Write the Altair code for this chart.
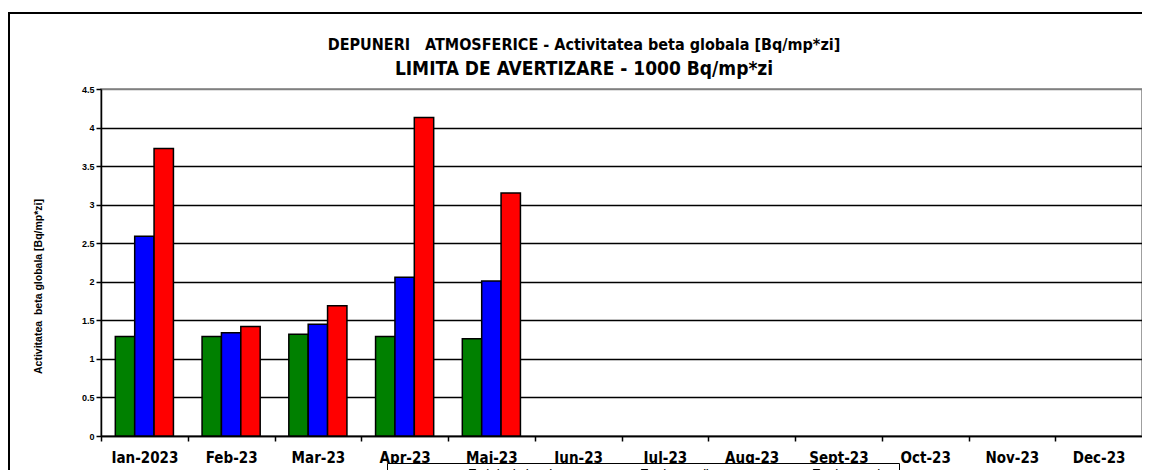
import altair as alt
import pandas as pd

months = ["Ian-2023", "Feb-23", "Mar-23", "Apr-23", "Mai-23", "Iun-23",
          "Iul-23", "Aug-23", "Sept-23", "Oct-23", "Nov-23", "Dec-23"]
series_names = ["Limita de detectie", "Valoare medie", "Valoare maxima"]
green_vals = [1.29, 1.29, 1.32, 1.29, 1.26]
blue_vals = [2.59, 1.34, 1.45, 2.06, 2.01]
red_vals = [3.73, 1.42, 1.69, 4.13, 3.15]
series_colors = ["#008000", "#0000FF", "#FF0000"]
y_ticks = [0, 0.5, 1, 1.5, 2, 2.5, 3, 3.5, 4, 4.5]

title_lines = ["DEPUNERI\u00a0\u00a0 ATMOSFERICE - Activitatea beta globala [Bq/mp*zi]",
               "LIMITA DE AVERTIZARE - 1000 Bq/mp*zi"]
y_title = "Activitatea\u00a0 beta globala [Bq/mp*zi]"
x_title = "Luna"

rows = []
for name, vals in zip(series_names, [green_vals, blue_vals, red_vals]):
    for m, v in zip(months, vals):
        rows.append({"luna": m, "serie": name, "valoare": v})
df = pd.DataFrame(rows)
titles_df = pd.DataFrame({"t": title_lines, "line": [0, 1]})

W, H = 1041, 347
step = W / len(months)
COND = "DejaVu Sans Condensed"
SANS = "Liberation Sans"

frame = alt.Chart(pd.DataFrame({"k": [0]})).mark_rect(
    filled=False, stroke="black", strokeWidth=2, clip=False
).encode(
    x=alt.value(-92), x2=alt.value(1120), y=alt.value(-76), y2=alt.value(460)
)

title1 = alt.Chart(titles_df).transform_filter("datum.line == 0").mark_text(
    font=COND, fontSize=16, fontWeight="bold", color="black", align="center", baseline="alphabetic"
).encode(text="t:N", x=alt.value(483), y=alt.value(-39))

title2 = alt.Chart(titles_df).transform_filter("datum.line == 1").mark_text(
    font=COND, fontSize=19, fontWeight="bold", color="black", align="center", baseline="alphabetic"
).encode(text="t:N", x=alt.value(483), y=alt.value(-14))

bars = alt.Chart(df).mark_bar(stroke="black", strokeWidth=1.5).encode(
    x=alt.X("luna:N", sort=months,
            scale=alt.Scale(domain=months, paddingInner=0.33, paddingOuter=0.165),
            axis=alt.Axis(title=x_title, labelAngle=0, labelFont=COND, labelFontSize=15,
                          labelFontWeight="bold", labelColor="black", domainColor="black",
                          domainWidth=1.5, tickColor="black", tickWidth=1.5, tickSize=5,
                          tickOffset=-step / 2, labelOffset=step / 2, labelPadding=9,
                          titleFont=COND, titleFontSize=15, titleFontWeight="bold",
                          titleColor="black", titleX=985, titleY=378, titleBaseline="top")),
    xOffset=alt.XOffset("serie:N", sort=series_names,
                        scale=alt.Scale(paddingInner=0, paddingOuter=0)),
    y=alt.Y("valoare:Q", scale=alt.Scale(domain=[0, 4.5], nice=False),
            axis=alt.Axis(title=y_title, values=y_ticks, format=".1~f",
                          labelFont=SANS, labelFontSize=9, labelFontWeight="bold",
                          labelColor="black", labelPadding=2,
                          domainColor="black", domainWidth=1.5, tickColor="black",
                          tickWidth=1.5, tickSize=5,
                          grid=True, gridWidth=1.6,
                          gridColor={"condition": {"test": "datum.value >= 4.5", "value": "#808080"},
                                     "value": "black"},
                          titleFont=SANS, titleFontSize=10.5, titleFontWeight="bold",
                          titleColor="black", titleAngle=270, titleX=-63, titleY=197,
                          titleAlign="center", titleBaseline="middle")),
    color=alt.Color("serie:N", sort=series_names,
                    scale=alt.Scale(domain=series_names, range=series_colors),
                    legend=alt.Legend(title=None, orient="none", legendX=286, legendY=374,
                                      direction="horizontal", columns=3, gridAlign="all",
                                      strokeColor="black", fillColor="white", padding=5,
                                      symbolType="square", symbolSize=40,
                                      symbolStrokeColor="black", symbolStrokeWidth=1,
                                      symbolOffset=76, labelOffset=4, columnPadding=6,
                                      labelFont=SANS, labelFontSize=9, labelFontWeight="bold",
                                      labelColor="black")),
)

chart = alt.layer(frame, bars, title1, title2).properties(
    width=W, height=H,
    padding={"left": 93, "top": 81, "right": 0, "bottom": 34},
    autosize=alt.AutoSizeParams(type="none"),
).configure_view(stroke="#808080", strokeWidth=1.5)

chart.save("out.html", embed_options={"renderer": "svg", "actions": False})
